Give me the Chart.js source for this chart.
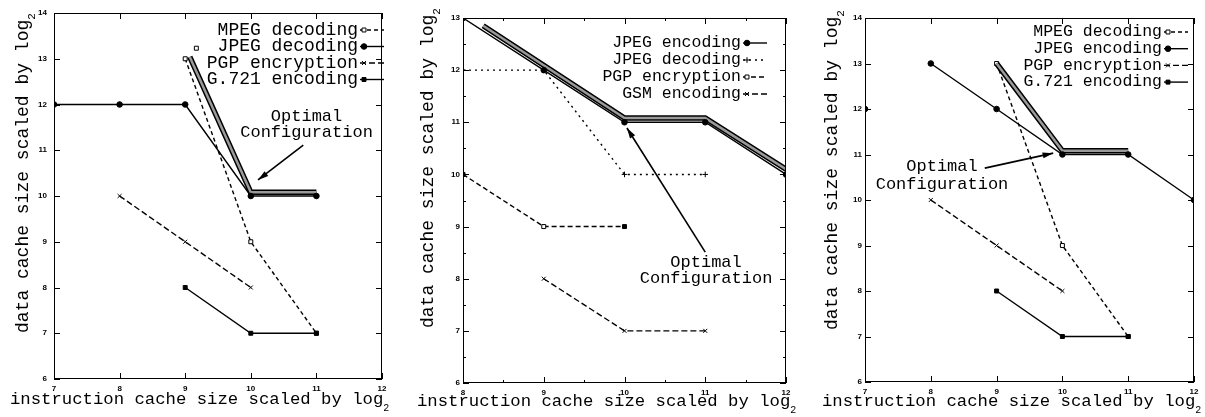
<!DOCTYPE html>
<html>
<head>
<meta charset="utf-8">
<script src="https://cdn.jsdelivr.net/npm/chart.js@4.4.0/dist/chart.umd.min.js"></script>
<style>
  body { margin: 0; background: #fff; }
  #wrap { position: relative; width: 1205px; height: 417px; }
  canvas { position: absolute; top: 0; }
</style>
</head>
<body>
<div id="wrap">
  <canvas id="c1" width="400" height="417" style="left:0"></canvas>
  <canvas id="c2" width="400" height="417" style="left:400px"></canvas>
  <canvas id="c3" width="405" height="417" style="left:800px"></canvas>
</div>
<script>
// ---- panel 1 (log2 instruction cache size vs log2 data cache size)
const p1MpegX = [9, 10, 11];
const p1MpegY = [13, 9, 7];
const p1StrayX = [9.17];
const p1StrayY = [13.23];
const p1JpegDecX = [7, 8, 9, 10, 11];
const p1JpegDecY = [12, 12, 12, 10, 10];
const p1PgpX = [8, 9, 10];
const p1PgpY = [10, 9, 8];
const p1G721X = [9, 10, 11];
const p1G721Y = [8, 7, 7];
const p1BestX = [9.07, 10, 11];
const p1BestY = [13.04, 10.08, 10.08];

// ---- panel 2
const p2JpegEncX = [8, 9, 10, 11, 12];
const p2JpegEncY = [13, 12, 11, 11, 10];
const p2JpegDecX = [8, 9, 10, 11];
const p2JpegDecY = [12, 12, 10, 10];
const p2PgpX = [8, 9, 10];
const p2PgpY = [10, 9, 9];
const p2GsmX = [9, 10, 11];
const p2GsmY = [8, 7, 7];
const p2BestX = [8.25, 10, 11, 12];
const p2BestY = [12.85, 11.08, 11.08, 10.1];

// ---- panel 3
const p3MpegX = [9, 10, 11];
const p3MpegY = [13, 9, 7];
const p3JpegEncX = [8, 9, 10, 11, 12];
const p3JpegEncY = [13, 12, 11, 11, 10];
const p3LoneX = [7];
const p3LoneY = [12];
const p3PgpX = [8, 9, 10];
const p3PgpY = [10, 9, 8];
const p3G721X = [9, 10, 11];
const p3G721Y = [8, 7, 7];
const p3BestX = [9, 10, 11];
const p3BestY = [13, 11.08, 11.08];

// annotation "Optimal Configuration": text centre and arrow, in data units
const p1Note = { text: [10.85, 11.73, 11.38], arrow: [10.80, 11.11, 10.11, 10.35] };
const p2Note = { text: [11.01, 8.32, 8.01], arrow: [11.0, 8.51, 10.03, 10.89] };
const p3Note = { text: [8.17, 10.73, 10.33], arrow: [8.82, 10.70, 9.86, 11.03] };

const noteLines = ['Optimal', 'Configuration'];
const xTitle = 'instruction cache size scaled by log';
const yTitle = 'data cache size scaled by log';

const MONO = '"Liberation Mono", "DejaVu Sans Mono", monospace';

function series(label, xs, ys, o) {
  return Object.assign({
    label: label,
    data: xs.map((x, i) => ({ x: x, y: ys[i] })),
    showLine: true,
    borderColor: '#000',
    backgroundColor: '#000',
    borderWidth: 1.4,
    pointRadius: 2.8,
    pointBorderWidth: 1,
    pointBorderColor: '#000',
    pointBackgroundColor: '#000',
    pointStyle: 'circle'
  }, o);
}

function band(xs, ys) {
  return [
    series('', xs, ys, { borderColor: '#9a9a9a', borderWidth: 2.5, pointRadius: 0 }),
    series('', xs, ys, { borderColor: '#000', borderWidth: 5.5, pointRadius: 0 })
  ];
}

function subText(ctx, txt, x, y, size) {
  ctx.font = size + 'px ' + MONO;
  ctx.textAlign = 'left';
  ctx.textBaseline = 'alphabetic';
  ctx.fillText(txt, x, y);
  const w = ctx.measureText(txt).width;
  ctx.font = Math.round(size * 0.6) + 'px ' + MONO;
  ctx.fillText('2', x + w, y + size * 0.4);
}

function arrow(ctx, x1, y1, x2, y2) {
  ctx.lineWidth = 1.6;
  ctx.beginPath();
  ctx.moveTo(x1, y1);
  ctx.lineTo(x2, y2);
  ctx.stroke();
  const ang = Math.atan2(y2 - y1, x2 - x1), L = 11, W = 0.28;
  ctx.beginPath();
  ctx.moveTo(x2, y2);
  ctx.lineTo(x2 - L * Math.cos(ang - W), y2 - L * Math.sin(ang - W));
  ctx.lineTo(x2 - L * Math.cos(ang + W), y2 - L * Math.sin(ang + W));
  ctx.closePath();
  ctx.fill();
}

// gnuplot look: frame, inward ticks, titles, legend, note
const gnuPlugin = {
  id: 'gnu',
  afterDraw(chart, args, o) {
    const { ctx, chartArea: a, scales: { x, y } } = chart;
    ctx.save();
    ctx.strokeStyle = '#000';
    ctx.fillStyle = '#000';
    ctx.lineWidth = 1;
    ctx.strokeRect(a.left + 0.5, a.top + 0.5, a.right - a.left - 1, a.bottom - a.top - 1);

    ctx.beginPath();
    const tickX = (v, len) => {
      const px = Math.round(x.getPixelForValue(v)) + 0.5;
      ctx.moveTo(px, a.bottom); ctx.lineTo(px, a.bottom - len);
      ctx.moveTo(px, a.top); ctx.lineTo(px, a.top + len);
    };
    const tickY = (v, len) => {
      const py = Math.round(y.getPixelForValue(v)) + 0.5;
      ctx.moveTo(a.left, py); ctx.lineTo(a.left + len, py);
      ctx.moveTo(a.right, py); ctx.lineTo(a.right - len, py);
    };
    x.ticks.forEach(t => tickX(t.value, 6));
    y.ticks.forEach(t => tickY(t.value, 6));
    if (o.minor) {
      for (let v = x.min + 0.5; v < x.max; v += 1) tickX(v, 3);
      for (let v = y.min + 0.5; v < y.max; v += 1) tickY(v, 3);
    }
    ctx.stroke();

    // axis titles
    subText(ctx, xTitle, o.xTitle[0], o.xTitle[1], o.xTitleSize);
    ctx.save();
    ctx.translate(o.yTitle[0], o.yTitle[1]);
    ctx.rotate(-Math.PI / 2);
    subText(ctx, yTitle, 0, 0, o.yTitleSize);
    ctx.restore();

    // legend, text right-aligned with sample on the right
    o.legend.forEach((idx, i) => {
      const ds = chart.data.datasets[idx];
      const yy = o.legendTop + i * o.legendStep;
      const r = o.legendRight;
      ctx.fillStyle = '#000';
      ctx.font = o.legendSize + 'px ' + MONO;
      ctx.textAlign = 'right';
      ctx.textBaseline = 'middle';
      ctx.fillText(ds.label, r, yy);
      ctx.setLineDash(ds.borderDash || []);
      ctx.lineWidth = ds.borderWidth;
      ctx.beginPath();
      ctx.moveTo(r + 2, yy);
      ctx.lineTo(r + 26, yy);
      ctx.stroke();
      ctx.setLineDash([]);
      ctx.lineWidth = 1;
      const bg = Array.isArray(ds.pointBackgroundColor) ? ds.pointBackgroundColor[1] : ds.pointBackgroundColor;
      ctx.fillStyle = bg;
      Chart.helpers.drawPoint(ctx, { pointStyle: ds.pointStyle, radius: 2.8, rotation: 0, borderWidth: 1 }, r + 6, yy);
    });

    // annotation
    const n = o.note;
    ctx.fillStyle = '#000';
    ctx.font = o.noteSize + 'px ' + MONO;
    ctx.textAlign = 'center';
    ctx.textBaseline = 'middle';
    ctx.fillText(noteLines[0], x.getPixelForValue(n.text[0]), y.getPixelForValue(n.text[1]));
    ctx.fillText(noteLines[1], x.getPixelForValue(n.text[0]), y.getPixelForValue(n.text[2]));
    arrow(ctx,
      x.getPixelForValue(n.arrow[0]), y.getPixelForValue(n.arrow[1]),
      x.getPixelForValue(n.arrow[2]), y.getPixelForValue(n.arrow[3]));
    ctx.restore();
  }
};

const tickFont = { family: '"Liberation Sans", Arial, sans-serif', size: 8, weight: 'bold' };

function makeChart(id, cfg) {
  return new Chart(document.getElementById(id), {
    type: 'scatter',
    data: { datasets: cfg.datasets },
    options: {
      responsive: false,
      animation: false,
      events: [],
      layout: { padding: { top: cfg.area.t, right: cfg.w - cfg.area.r, left: 0, bottom: 0 } },
      plugins: { legend: { display: false }, tooltip: { enabled: false }, gnu: cfg.gnu },
      scales: {
        x: {
          type: 'linear', min: cfg.xMin, max: cfg.xMax,
          afterFit: s => { s.height = 417 - cfg.area.b; },
          ticks: { stepSize: 1, font: tickFont, color: '#000', padding: 5, maxRotation: 0 },
          grid: { display: false, drawTicks: false }, border: { display: false }
        },
        y: {
          type: 'linear', min: cfg.yMin, max: cfg.yMax,
          afterFit: s => { s.width = cfg.area.l; },
          ticks: { stepSize: 1, font: tickFont, color: '#000', padding: cfg.yPad },
          grid: { display: false, drawTicks: false }, border: { display: false }
        }
      }
    },
    plugins: [gnuPlugin]
  });
}

makeChart('c1', {
  w: 400, area: { l: 54, r: 382, t: 13, b: 379 }, xMin: 7, xMax: 12, yMin: 6, yMax: 14, yPad: 7,
  datasets: [
    series('MPEG decoding', p1MpegX, p1MpegY, { order: 1, borderDash: [4, 3], pointStyle: 'rect', pointBackgroundColor: '#fff' }),
    series('JPEG decoding', p1JpegDecX, p1JpegDecY, { pointStyle: 'circle' }),
    series('PGP encryption', p1PgpX, p1PgpY, { borderDash: [6, 3], pointStyle: 'crossRot' }),
    series('G.721 encoding', p1G721X, p1G721Y, { pointStyle: 'rect' }),
    series('', p1StrayX, p1StrayY, { showLine: false, pointStyle: 'rect', pointBackgroundColor: '#fff' }),
    ...band(p1BestX, p1BestY)
  ],
  gnu: {
    legend: [0, 1, 2, 3], legendRight: 358, legendTop: 30, legendStep: 16.5, legendSize: 18,
    xTitle: [10, 404], xTitleSize: 17.3, yTitle: [28, 333], yTitleSize: 18,
    note: p1Note, noteSize: 17, minor: false
  }
});

makeChart('c2', {
  w: 400, area: { l: 63, r: 386, t: 18, b: 383 }, xMin: 8, xMax: 12, yMin: 6, yMax: 13, yPad: 3,
  datasets: [
    series('JPEG encoding', p2JpegEncX, p2JpegEncY, { pointStyle: 'circle' }),
    series('JPEG decoding', p2JpegDecX, p2JpegDecY, { borderDash: [2, 4], pointStyle: 'cross' }),
    series('PGP encryption', p2PgpX, p2PgpY, { borderDash: [5, 3], pointStyle: 'rect', pointBackgroundColor: ['#000', '#fff', '#000'] }),
    series('GSM encoding', p2GsmX, p2GsmY, { borderDash: [6, 3], pointStyle: 'crossRot' }),
    ...band(p2BestX, p2BestY)
  ],
  gnu: {
    legend: [0, 1, 2, 3], legendRight: 341, legendTop: 43, legendStep: 17, legendSize: 16.5,
    xTitle: [17, 406], xTitleSize: 17.3, yTitle: [33, 328], yTitleSize: 18,
    note: p2Note, noteSize: 17, minor: true
  }
});

makeChart('c3', {
  w: 405, area: { l: 65, r: 394, t: 18, b: 382 }, xMin: 7, xMax: 12, yMin: 6, yMax: 14, yPad: 3,
  datasets: [
    series('MPEG decoding', p3MpegX, p3MpegY, { order: 1, borderDash: [4, 3], pointStyle: 'rect', pointBackgroundColor: '#fff' }),
    series('JPEG encoding', p3JpegEncX, p3JpegEncY, { pointStyle: 'circle' }),
    series('PGP encryption', p3PgpX, p3PgpY, { borderDash: [6, 3], pointStyle: 'crossRot' }),
    series('G.721 encoding', p3G721X, p3G721Y, { pointStyle: 'rect' }),
    series('', p3LoneX, p3LoneY, { showLine: false, pointStyle: 'circle' }),
    ...band(p3BestX, p3BestY)
  ],
  gnu: {
    legend: [0, 1, 2, 3], legendRight: 362, legendTop: 32, legendStep: 16.7, legendSize: 16.5,
    xTitle: [22, 406], xTitleSize: 17.3, yTitle: [37, 330], yTitleSize: 18,
    note: p3Note, noteSize: 17, minor: false
  }
});
</script>
</body>
</html>
